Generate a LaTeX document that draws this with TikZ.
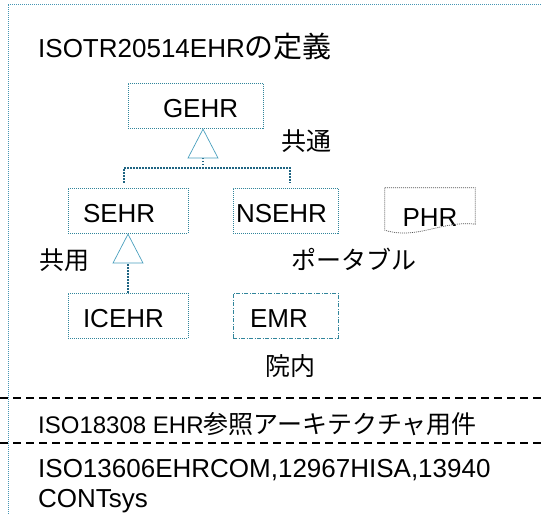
\documentclass[tikz,border=0pt]{standalone}
\usepackage{fontspec}
\setmainfont{Liberation Sans}
\newfontfamily\jp{Noto Sans CJK JP}
\usetikzlibrary{arrows.meta}

\definecolor{boxline}{RGB}{49,133,155}
\definecolor{triline}{RGB}{75,160,190}
\definecolor{linkline}{RGB}{31,100,130}
\definecolor{frameline}{RGB}{70,150,180}
\definecolor{docline}{RGB}{80,80,80}

\tikzset{
  box/.style={draw=boxline, line width=0.8pt, dash pattern=on 1pt off 1pt,
    inner sep=0pt, minimum height=45pt, text height=23pt, text depth=0pt,
    align=left, font=\fontsize{26}{26}\selectfont},
  tag/.style={font=\jp\fontsize{25}{25}\selectfont, inner sep=0pt},
  link/.style={draw=linkline, line width=1.4pt, dash pattern=on 1.4pt off 1.6pt},
  inherit/.style={link, -{Triangle[open, length=30pt, width=31pt, line width=0.7pt, color=triline]}},
  rule/.style={black, line width=1.2pt, dash pattern=on 8pt off 5pt},
}

\begin{document}
\begin{tikzpicture}[x=1pt,y=-1pt]
\useasboundingbox (0,0) rectangle (541,514);
% outer frame
\draw[frameline, line width=0.9pt, dash pattern=on 1pt off 1pt] (8,514) -- (8,4) -- (541,4);

\node[anchor=base west, inner sep=0pt, font=\fontsize{26}{26}\selectfont] (title) at (38,57)
  {ISOTR20514EHR{\jp\fontsize{29}{29}\selectfont の定義}};

% EHR classes
\node[box, text width=135pt] (gehr) at (195.5,105.5) {\hspace*{35pt}GEHR};
\node[box, text width=120pt] (sehr) at (128,210.5) {\hspace*{15pt}SEHR};
\node[box, text width=105pt] (nsehr) at (285.5,210.5) {\hspace*{3pt}NSEHR};
\node[box, text width=120pt] (icehr) at (128,315.5) {\hspace*{15pt}ICEHR};
\node[box, text width=105pt, dash pattern=on 4pt off 1.5pt on 1pt off 1.5pt] (emr) at (285.5,315.5) {\hspace*{17pt}EMR};

% PHR as document
\node[inner sep=0pt, minimum width=90pt, minimum height=42pt, text height=34pt, text depth=0pt,
  font=\fontsize{26}{26}\selectfont] (phr) at (430,209) {PHR};
\draw[docline, line width=0.7pt, dash pattern=on 1pt off 1pt]
  (phr.north west) -- (phr.north east) -- ([yshift=6pt]phr.south east)
  .. controls ([xshift=-33pt,yshift=10pt]phr.south east) and ([xshift=32pt,yshift=-10pt]phr.south west) .. (phr.south west)
  -- cycle;

\node[tag] (common) at (306,141) {共通};
\node[tag] (shared) at (64,260) {共用};
\node[tag] (portable) at (354,259) {ポータブル};
\node[tag] (inhouse) at (290,366) {院内};

% generalisation
\coordinate (bus) at (203,168);
\draw[link] ([xshift=-4pt,yshift=5pt]sehr.north) |- (bus) -| ([xshift=4.5pt,yshift=5pt]nsehr.north);
\draw[inherit] (bus) -- (bus |- gehr.south);
\draw[inherit] (icehr.north) -- (sehr.south);

% standards
\draw[rule] (0,398) -- (541,398);
\node[anchor=base west, inner sep=0pt, font=\fontsize{24}{24}\selectfont] (arch) at (38,433)
  {ISO18308 EHR{\jp\fontsize{25}{25}\selectfont 参照アーキテクチャ用件}};
\draw[rule] (0,443) -- (541,443);
\node[anchor=north west, inner sep=0pt, align=left, font=\fontsize{26}{30}\selectfont] (stds) at (38,459)
  {ISO13606EHRCOM,12967HISA,13940\\CONTsys};
\end{tikzpicture}
\end{document}
